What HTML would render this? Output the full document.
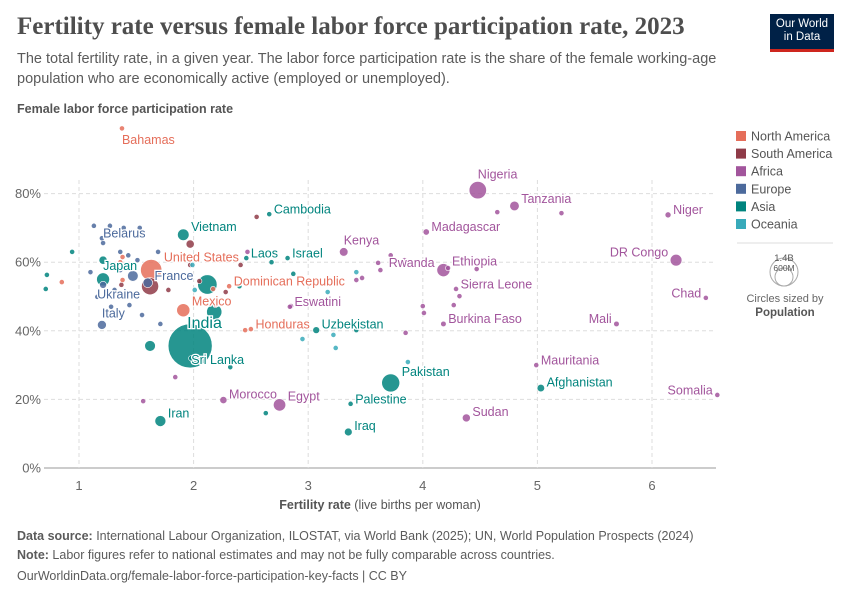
<!DOCTYPE html>
<html><head><meta charset="utf-8"><style>
body{margin:0;background:#fff;font-family:"Liberation Sans",sans-serif;}
#wrap{position:relative;width:850px;height:600px;overflow:hidden;}
.t{position:absolute;white-space:nowrap;}
</style></head><body>
<div id="wrap">
<div class="t" style="left:17px;top:13px;font-family:'Liberation Serif',serif;font-size:25px;font-weight:bold;color:#4e4e4e;">Fertility rate versus female labor force participation rate, 2023</div>
<div class="t" style="left:17px;top:49px;font-size:14.5px;line-height:20px;color:#5b5b5b;white-space:normal;width:700px;">The total fertility rate, in a given year. The labor force participation rate is the share of the female working-age population who are economically active (employed or unemployed).</div>
<div style="position:absolute;left:770px;top:14px;width:64px;height:38px;background:#002147;border-bottom:3px solid #ce261e;box-sizing:border-box;color:#fff;font-size:11.5px;line-height:13px;text-align:center;padding-top:4px;">Our World<br>in Data</div>
<svg id="svg" width="850" height="600" style="position:absolute;left:0;top:0;"></svg>
<div class="t" style="left:17px;top:529px;font-size:12.5px;color:#5b5b5b;"><b>Data source:</b> International Labour Organization, ILOSTAT, via World Bank (2025); UN, World Population Prospects (2024)</div>
<div class="t" style="left:17px;top:548px;font-size:12.5px;color:#5b5b5b;"><b>Note:</b> Labor figures refer to national estimates and may not be fully comparable across countries.</div>
<div class="t" style="left:17px;top:569px;font-size:12.5px;color:#5b5b5b;">OurWorldinData.org/female-labor-force-participation-key-facts | CC BY</div>
</div>
<script>
const regions=["North America","South America","Africa","Europe","Asia","Oceania"];
const regionColors=["#e56e5a","#8f3b48","#a2559c","#4c6a9c","#00847e","#38aaba"];
const xTicks=[1,2,3,4,5,6];
const yTicks=[0,20,40,60,80];
// labeled countries
const lNames=["Bahamas","Nigeria","Tanzania","Niger","DR Congo","Chad","Mali","Somalia","Madagascar","Kenya","Rwanda","Ethiopia","Sierra Leone","Burkina Faso","Mauritania","Afghanistan","Sudan","Pakistan","Palestine","Iraq","Egypt","Morocco","Iran","India","Sri Lanka","Uzbekistan","Honduras","Eswatini","Dominican Republic","Mexico","Laos","Israel","Cambodia","Vietnam","United States","France","Japan","Belarus","Ukraine","Italy"];
const lFert=[1.375,4.48,4.80,6.14,6.21,6.47,5.69,6.57,4.03,3.31,3.72,4.18,4.29,4.18,4.99,5.03,4.38,3.72,3.37,3.35,2.75,2.26,1.71,1.97,1.98,3.07,2.50,2.84,2.31,1.91,2.46,2.82,2.66,1.91,1.63,1.60,1.21,1.21,1.21,1.20];
const lLfpr=[99,81,76.4,73.8,60.6,49.6,42,21.3,68.8,63,62,57.7,52.2,42,30,23.3,14.6,24.8,18.7,10.5,18.4,19.8,13.7,35.6,32,40.2,40.5,47,53,46,61.2,61.2,74,68,57.7,54,55,65.6,53.4,41.7];
const lPop=[0.4,223,67,27,102,18,23,18,30,55,14,126,8.6,23,5,42,48,240,5,45,113,38,89,1430,22,35,10,1.2,11,128,7.6,9.7,17,99,335,68,124,9,37,59];
const lRegion=[0,2,2,2,2,2,2,2,2,2,2,2,2,2,2,4,2,4,4,4,2,2,4,4,4,4,0,2,0,0,4,4,4,4,0,3,4,3,3,3];
const lPos=["b","tr","r","r","l","l","l","l","r","tr","rb","r","r","r","r","r","r","r","r","r","r","r","r","r","in","r","r","r","r","r","r","r","r","r","r","r","tr","tr","bl","tr"];
// unlabeled countries
const uFert=[0.72,0.71,0.94,2.32,2.63,2.87,2.68,3.42,2.40,1.62,2.18,2.12,1.42,1.99,2.01,3.22,2.95,3.24,3.42,3.87,3.17,1.13,1.27,1.39,1.53,1.69,1.36,1.10,1.16,1.47,1.44,1.28,1.55,1.71,1.43,1.51,1.36,1.20,1.47,1.31,2.55,1.97,2.41,2.05,2.28,1.78,2.19,1.37,1.97,1.62,2.47,3.42,3.47,3.61,3.63,4.65,5.21,3.84,4.00,4.01,3.85,4.47,1.84,1.56,2.85,4.22,4.57,4.27,4.32,0.85,1.38,1.38,2.17,1.36,2.45,1.21];
const uLfpr=[56.3,52.2,63,29.4,16,56.6,60,40.2,53,35.6,45.5,53.5,68,59.2,51.9,38.8,37.6,35,57.1,30.9,51.3,70.6,70.6,70,70,63,63,57.1,49.9,50.1,47.5,47,44.6,42,62,60.6,57.7,67,56,51.9,73.2,65.3,59.2,54.5,51.3,51.9,47.5,53.4,59.2,53,63,54.8,55.4,59.8,57.7,74.6,74.3,60.6,47.2,45.2,39.4,58,26.5,19.5,47.2,58.3,43.4,47.5,50.1,54.2,61.5,54.8,52.2,60,40.2,60.6];
const uPop=[6,2,1,3,1,1,5,3,7,85,172,277,1,1,1,1,1,1,1,1,1,5,6,3,4,3,10,11,4,17,10,10,5,5,8,4,2,2,84,3,2,50,6,1,3,3,2,8,20,216,12,17,6,5,20,2,17,8,6,13,3,12,5,3,5,5,2,8,6,2,3,5,3,4,1,50];
const uRegion=[4,4,4,4,4,4,4,4,4,4,4,4,5,5,5,5,5,5,5,5,5,3,3,3,3,3,3,3,3,3,3,3,3,3,3,3,3,3,3,3,1,1,1,1,1,1,1,1,1,1,2,2,2,2,2,2,2,2,2,2,2,2,2,2,2,2,2,2,2,0,0,0,0,0,0,4];

const NS="http://www.w3.org/2000/svg";
const svg=document.getElementById('svg');
const X0=44,X1=716,Y0=468,Y1=120;
function xs(v){return 79+(v-1)*114.6;}
function ys(v){return 468-v*3.43;}
function rs(p){return Math.max(2.6,22*Math.sqrt(p/1430));}
function mk(tag,attrs,txt){const e=document.createElementNS(NS,tag);for(const k in attrs)e.setAttribute(k,attrs[k]);if(txt!==undefined)e.textContent=txt;svg.appendChild(e);return e;}

let e=mk('text',{x:17,y:113,'font-size':12.5,'font-weight':'bold',fill:'#555'},'Female labor force participation rate');


yTicks.forEach(v=>{
  let g=mk('line',{x1:X0,x2:X1,y1:ys(v),y2:ys(v),stroke:v===0?'#999':'#ddd','stroke-dasharray':v===0?'':'4,3'});
  
  
  let t=mk('text',{x:41,y:ys(v)+4.5,'text-anchor':'end','font-size':13,fill:'#666'},v+'%');
  
  
});
xTicks.forEach(v=>{
  let g=mk('line',{x1:xs(v),x2:xs(v),y1:Y1+60,y2:Y0,stroke:'#ddd','stroke-dasharray':'4,3'});
  
  
  let t=mk('text',{x:xs(v),y:490,'text-anchor':'middle','font-size':13,fill:'#666'},String(v));
  
  
});
e=mk('text',{x:380,y:509,'text-anchor':'middle','font-size':12.5,fill:'#555'});
e.innerHTML='<tspan font-weight="bold">Fertility rate</tspan> (live births per woman)';



const pts=[];
uFert.forEach((f,i)=>pts.push({f,l:uLfpr[i],p:uPop[i],r:uRegion[i]}));
lFert.forEach((f,i)=>pts.push({f,l:lLfpr[i],p:lPop[i],r:lRegion[i]}));
pts.sort((a,b)=>b.p-a.p);
pts.forEach(d=>{
  let c=mk('circle',{cx:xs(d.f),cy:ys(d.l),r:rs(d.p),fill:regionColors[d.r],'fill-opacity':0.85,stroke:'#fff','stroke-width':0.6});
  
  
});
lNames.forEach((n,i)=>{
  const cx=xs(lFert[i]),cy=ys(lLfpr[i]),r=rs(lPop[i]);
  let x=cx+r+2,y=cy-r+2,a='start';
  const p=lPos[i];
  if(p==='l'){x=cx-r-2;a='end';}
  if(p==='tr'){x=cx;y=cy-r-3;}
  if(p==='rb'){x=cx-2;y=cy+r+9;}
  if(p==='bl'){x=cx-6;y=cy+r+10;}
  if(p==='b'){x=cx;y=cy+r+13;}
  if(p==='in'){x=cx;y=cy+6;}
  const big=n==='India';
  if(big){x=cx-3;y=cy-r+4;}
  let t=mk('text',{x,y,'text-anchor':a,'font-size':big?16:12.5,fill:regionColors[lRegion[i]],stroke:'#fff','stroke-width':2.5,'paint-order':'stroke'},n);
  
  
});

regions.forEach((n,i)=>{
  const y=136+i*17.6;
  let s=mk('rect',{x:736,y:y-5,width:10,height:10,fill:regionColors[i]});
  
  
  let t=mk('text',{x:751,y:y+4.5,'font-size':12.5,fill:'#555'},n);
  
  
});
e=mk('line',{x1:737,x2:833,y1:243,y2:243,stroke:'#ddd'});


e=mk('circle',{cx:784,cy:272,r:14,fill:'none',stroke:'#aaa'});


e=mk('circle',{cx:784,cy:277,r:9,fill:'none',stroke:'#aaa'});


e=mk('text',{x:784,y:261,'text-anchor':'middle','font-size':9.5,fill:'#555'},'1.4B');


e=mk('text',{x:784,y:271,'text-anchor':'middle','font-size':8.5,fill:'#555'},'600M');


e=mk('text',{x:785,y:302,'text-anchor':'middle','font-size':11,fill:'#666'},'Circles sized by');


e=mk('text',{x:785,y:316,'text-anchor':'middle','font-size':11.5,'font-weight':'bold',fill:'#555'},'Population');


</script>
</body></html>
